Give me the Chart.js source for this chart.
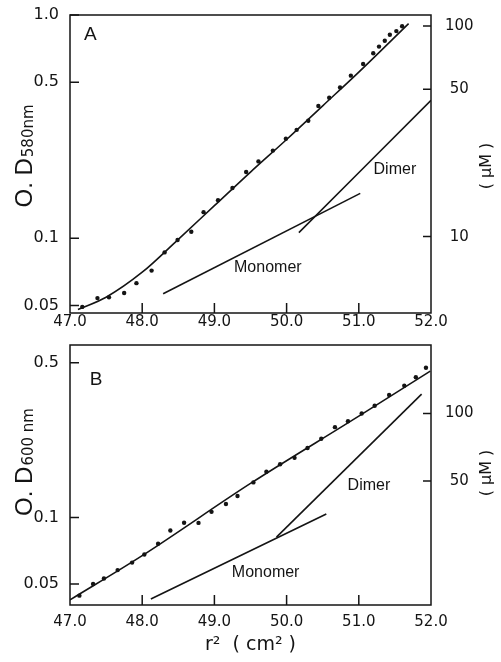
<!DOCTYPE html>
<html>
<head>
<meta charset="utf-8">
<script src="https://cdn.jsdelivr.net/npm/chart.js@4.4.1/dist/chart.umd.min.js"></script>
<style>
  body { margin: 0; background: #fff; }
  .panel { position: absolute; left: 0; }
</style>
</head>
<body>
<div class="panel" style="top:0"><canvas id="chartA" width="501" height="340"></canvas></div>
<div class="panel" style="top:330px"><canvas id="chartB" width="501" height="332"></canvas></div>
<script>
// x axis (r^2, cm^2)
const xTicks = [47.0, 48.0, 49.0, 50.0, 51.0, 52.0];

// panel A, O.D 580nm
const aLeftTicks = [1.0, 0.5, 0.1, 0.05];
const aLeftLabels = ['1.0', '0.5', '0.1', '0.05'];
const aRightTicks = [100, 50, 10];
const aDotX = [47.17, 47.38, 47.54, 47.75, 47.92, 48.13, 48.31, 48.49, 48.68, 48.85, 49.05, 49.25, 49.44, 49.61, 49.81,
  49.99, 50.14, 50.30, 50.44, 50.59, 50.74, 50.89, 51.06, 51.20, 51.28, 51.36, 51.43, 51.52, 51.60];
const aDotY = [0.0493, 0.054, 0.0544, 0.0569, 0.063, 0.0717, 0.0865, 0.0983, 0.107, 0.131, 0.148, 0.168, 0.198, 0.221, 0.247,
  0.279, 0.306, 0.336, 0.391, 0.426, 0.474, 0.535, 0.603, 0.674, 0.722, 0.767, 0.816, 0.847, 0.891];
const aFitX = [47.11, 47.5, 48.0, 48.5, 49.0, 49.5, 50.0, 50.5, 51.0, 51.69];
const aFitY = [0.048, 0.0545, 0.0705, 0.099, 0.140, 0.198, 0.277, 0.392, 0.555, 0.915];
const aMonoX = [48.29, 51.02];
const aMonoY = [0.0565, 0.159];
const aDimerX = [50.17, 52.0];
const aDimerY = [0.106, 0.415];

// panel B, O.D 600nm
const bLeftTicks = [0.5, 0.1, 0.05];
const bLeftLabels = ['0.5', '0.1', '0.05'];
const bRightTicks = [100, 50];
const bDotX = [47.13, 47.32, 47.47, 47.66, 47.86, 48.03, 48.22, 48.39, 48.58, 48.78, 48.96, 49.16, 49.32, 49.54,
  49.72, 49.91, 50.11, 50.29, 50.48, 50.67, 50.85, 51.04, 51.22, 51.42, 51.63, 51.79, 51.93];
const bDotY = [0.0443, 0.050, 0.053, 0.0578, 0.0625, 0.068, 0.0761, 0.0873, 0.0946, 0.0945, 0.106, 0.115, 0.125, 0.144,
  0.161, 0.174, 0.186, 0.206, 0.227, 0.256, 0.272, 0.295, 0.320, 0.358, 0.394, 0.430, 0.475];
const bFitX = [47.0, 48.0, 49.5, 51.0, 51.99];
const bFitY = [0.0424, 0.0672, 0.1425, 0.287, 0.459];
const bMonoX = [48.12, 50.55];
const bMonoY = [0.0428, 0.1037];
const bDimerX = [49.86, 51.87];
const bDimerY = [0.0815, 0.361];

const ink = '#141414';
const tickFont = 'DejaVu Sans';
const textFont = 'Liberation Sans';

function pts(xs, ys) {
  return xs.map((x, i) => ({ x: x, y: ys[i] }));
}

function dots(xs, ys) {
  return { type: 'scatter', data: pts(xs, ys), pointRadius: 2.2, pointBackgroundColor: ink, pointBorderWidth: 0 };
}

function curve(xs, ys) {
  return { type: 'line', data: pts(xs, ys), borderColor: ink, borderWidth: 1.6, pointRadius: 0,
    fill: false, cubicInterpolationMode: 'monotone' };
}

// frame, inward tick marks, panel letters and line notes, axis titles
const decor = {
  id: 'decor',
  afterDraw(chart, args, opts) {
    const { ctx, chartArea: a, scales } = chart;
    const midY = (a.top + a.bottom) / 2;
    ctx.save();
    ctx.strokeStyle = ink;
    ctx.lineWidth = 1.5;
    ctx.strokeRect(a.left, a.top, a.right - a.left, a.bottom - a.top);
    ctx.beginPath();
    scales.x.ticks.forEach(t => {
      if (t.value <= scales.x.min || t.value >= scales.x.max) return;
      let px = scales.x.getPixelForValue(t.value);
      ctx.moveTo(px, a.bottom);
      ctx.lineTo(px, a.bottom - 10);
    });
    scales.y.ticks.forEach(t => {
      let py = scales.y.getPixelForValue(t.value);
      ctx.moveTo(a.left, py);
      ctx.lineTo(a.left + 9, py);
    });
    scales.y2.ticks.forEach(t => {
      let py = scales.y2.getPixelForValue(t.value);
      ctx.moveTo(a.right, py);
      ctx.lineTo(a.right - 8, py);
    });
    ctx.stroke();

    ctx.fillStyle = ink;
    ctx.textAlign = 'center';
    ctx.textBaseline = 'middle';
    opts.notes.forEach(n => {
      ctx.font = n.size + 'px "' + textFont + '"';
      ctx.fillText(n.text, scales.x.getPixelForValue(n.x), scales.y.getPixelForValue(n.y));
    });

    // right title, read bottom to top like the left one
    ctx.save();
    ctx.translate(a.right + 56, midY + opts.rightShift);
    ctx.rotate(-Math.PI / 2);
    ctx.font = '16px "' + tickFont + '"';
    ctx.fillText('( µM )', 0, 0);
    ctx.restore();

    let t = opts.yTitle;
    ctx.translate(a.left - 38, midY + t.shift);
    ctx.rotate(-Math.PI / 2);
    ctx.textAlign = 'left';
    ctx.textBaseline = 'alphabetic';
    let mainFont = '24px "' + textFont + '"';
    let subFont = '15px "' + tickFont + '"';
    ctx.font = mainFont;
    let wMain = ctx.measureText(t.main).width;
    ctx.font = subFont;
    let wSub = ctx.measureText(t.sub).width;
    let start = -(wMain + wSub + 1) / 2;
    ctx.font = mainFont;
    ctx.fillText(t.main, start, 0);
    ctx.font = subFont;
    ctx.fillText(t.sub, start + wMain + 1, 1);
    ctx.restore();
  }
};

function makeChart(id, cfg) {
  const tickLabels = new Map(cfg.leftTicks.map((v, i) => [v, cfg.leftLabels[i]]));
  return new Chart(document.getElementById(id), {
    data: { datasets: cfg.datasets },
    plugins: [decor],
    options: {
      responsive: false,
      animation: false,
      layout: { padding: { top: 13, left: 0, right: 0, bottom: 0 } },
      plugins: {
        legend: { display: false },
        tooltip: { enabled: false },
        decor: { notes: cfg.notes, yTitle: cfg.yTitle, rightShift: cfg.rightShift }
      },
      scales: {
        x: {
          type: 'linear', min: 47, max: 52,
          grid: { display: false }, border: { display: false },
          afterBuildTicks: s => { s.ticks = xTicks.map(v => ({ value: v })); },
          afterFit: s => { s.height = cfg.xHeight; },
          ticks: { color: ink, padding: cfg.xPad, maxRotation: 0, autoSkip: false,
            font: { family: tickFont, size: 15 }, callback: v => v.toFixed(1) },
          title: cfg.xTitle
        },
        y: {
          type: 'logarithmic', position: 'left', min: cfg.leftMin, max: cfg.leftMax,
          grid: { display: false }, border: { display: false },
          afterBuildTicks: s => { s.ticks = cfg.leftTicks.map(v => ({ value: v })); },
          afterFit: s => { s.width = 70; },
          ticks: { color: ink, padding: 3, autoSkip: false,
            font: { family: tickFont, size: 16 }, callback: v => tickLabels.get(v) }
        },
        y2: {
          type: 'logarithmic', position: 'right', min: cfg.rightMin, max: cfg.rightMax,
          grid: { display: false }, border: { display: false },
          afterBuildTicks: s => { s.ticks = cfg.rightTicks.map(v => ({ value: v })); },
          afterFit: s => { s.width = 70; },
          ticks: { color: ink, padding: 6, crossAlign: 'center', autoSkip: false,
            font: { family: tickFont, size: 15 }, callback: v => String(v) }
        }
      }
    }
  });
}

makeChart('chartA', {
  datasets: [dots(aDotX, aDotY), curve(aFitX, aFitY), curve(aMonoX, aMonoY), curve(aDimerX, aDimerY)],
  leftTicks: aLeftTicks, leftLabels: aLeftLabels, rightTicks: aRightTicks,
  leftMin: 0.0463, leftMax: 1.0, rightMin: 4.34, rightMax: 112.7,
  xHeight: 27, xPad: -8, rightShift: 2,
  xTitle: { display: false },
  yTitle: { main: 'O. D', sub: '580nm', shift: -8 },
  notes: [
    { text: 'A', x: 47.28, y: 0.815, size: 19 },
    { text: 'Monomer', x: 49.74, y: 0.0736, size: 16 },
    { text: 'Dimer', x: 51.50, y: 0.203, size: 16 }
  ]
});

makeChart('chartB', {
  datasets: [dots(bDotX, bDotY), curve(bFitX, bFitY), curve(bMonoX, bMonoY), curve(bDimerX, bDimerY)],
  leftTicks: bLeftTicks, leftLabels: bLeftLabels, rightTicks: bRightTicks,
  leftMin: 0.0402, leftMax: 0.602, rightMin: 14.0, rightMax: 202,
  xHeight: 57, xPad: 0, rightShift: -2,
  xTitle: { display: true, text: 'r²  ( cm² )', color: ink, padding: { top: 0, bottom: 6 },
    font: { family: tickFont, size: 19 } },
  yTitle: { main: 'O. D', sub: '600 nm', shift: -13 },
  notes: [
    { text: 'B', x: 47.36, y: 0.420, size: 19 },
    { text: 'Monomer', x: 49.71, y: 0.0566, size: 16 },
    { text: 'Dimer', x: 51.14, y: 0.139, size: 16 }
  ]
});
</script>
</body>
</html>
